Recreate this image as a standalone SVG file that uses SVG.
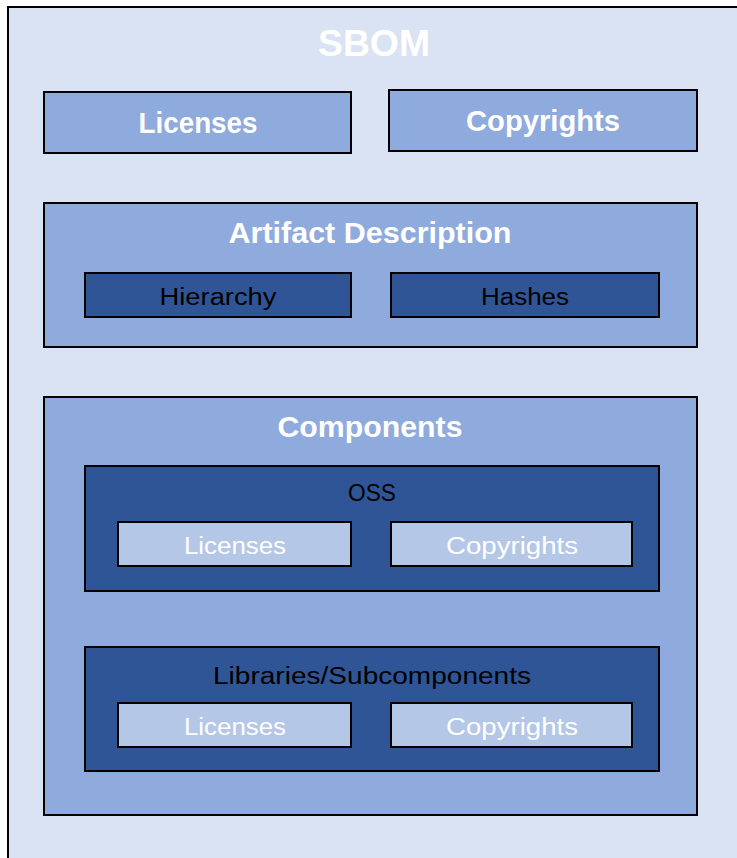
<svg xmlns="http://www.w3.org/2000/svg" width="737" height="858" viewBox="0 0 737 858">
<style>
.box{stroke:#000;stroke-width:2}
.l1{fill:#dae3f3}
.l2{fill:#8faadc}
.l3{fill:#2f5597}
.l4{fill:#b4c7e7}
text{font-family:"Liberation Sans",Arial,sans-serif;text-anchor:middle}
.h{font-weight:bold;fill:#fff}
.big{font-size:37px}
.mid{font-size:30px}
.dk{font-size:23px;fill:#000}
.lt{font-size:23px;fill:#fff}
</style>
<g id="sbom">
<rect class="box l1" x="8" y="7" width="740" height="860"/>
<text class="h big" x="374" y="56" textLength="112" lengthAdjust="spacingAndGlyphs">SBOM</text>
</g>
<g id="licenses">
<rect class="box l2" x="44" y="92" width="307" height="61"/>
<text class="h mid" x="198" y="133" textLength="119" lengthAdjust="spacingAndGlyphs">Licenses</text>
</g>
<g id="copyrights">
<rect class="box l2" x="389" y="90" width="308" height="61"/>
<text class="h mid" x="543" y="131" textLength="154" lengthAdjust="spacingAndGlyphs">Copyrights</text>
</g>
<g id="artifact">
<rect class="box l2" x="44" y="203" width="653" height="144"/>
<text class="h mid" x="370" y="243" textLength="283" lengthAdjust="spacingAndGlyphs">Artifact Description</text>
</g>
<g id="hierarchy">
<rect class="box l3" x="85" y="273" width="266" height="44"/>
<text class="dk" x="218" y="305" textLength="117" lengthAdjust="spacingAndGlyphs">Hierarchy</text>
</g>
<g id="hashes">
<rect class="box l3" x="391" y="273" width="268" height="44"/>
<text class="dk" x="525" y="305" textLength="88" lengthAdjust="spacingAndGlyphs">Hashes</text>
</g>
<g id="components">
<rect class="box l2" x="44" y="397" width="653" height="418"/>
<text class="h mid" x="370" y="437" textLength="185" lengthAdjust="spacingAndGlyphs">Components</text>
</g>
<g id="oss">
<rect class="box l3" x="85" y="466" width="574" height="125"/>
<text class="dk" x="372" y="501" textLength="48" lengthAdjust="spacingAndGlyphs">OSS</text>
</g>
<g id="oss-licenses">
<rect class="box l4" x="118" y="522" width="233" height="44"/>
<text class="lt" x="235" y="554" textLength="102" lengthAdjust="spacingAndGlyphs">Licenses</text>
</g>
<g id="oss-copyrights">
<rect class="box l4" x="391" y="522" width="241" height="44"/>
<text class="lt" x="512" y="554" textLength="132" lengthAdjust="spacingAndGlyphs">Copyrights</text>
</g>
<g id="libs">
<rect class="box l3" x="85" y="647" width="574" height="124"/>
<text class="dk" x="372" y="684" textLength="318" lengthAdjust="spacingAndGlyphs">Libraries/Subcomponents</text>
</g>
<g id="libs-licenses">
<rect class="box l4" x="118" y="703" width="233" height="44"/>
<text class="lt" x="235" y="735" textLength="102" lengthAdjust="spacingAndGlyphs">Licenses</text>
</g>
<g id="libs-copyrights">
<rect class="box l4" x="391" y="703" width="241" height="44"/>
<text class="lt" x="512" y="735" textLength="132" lengthAdjust="spacingAndGlyphs">Copyrights</text>
</g>
<g id="connectors"/>
</svg>
